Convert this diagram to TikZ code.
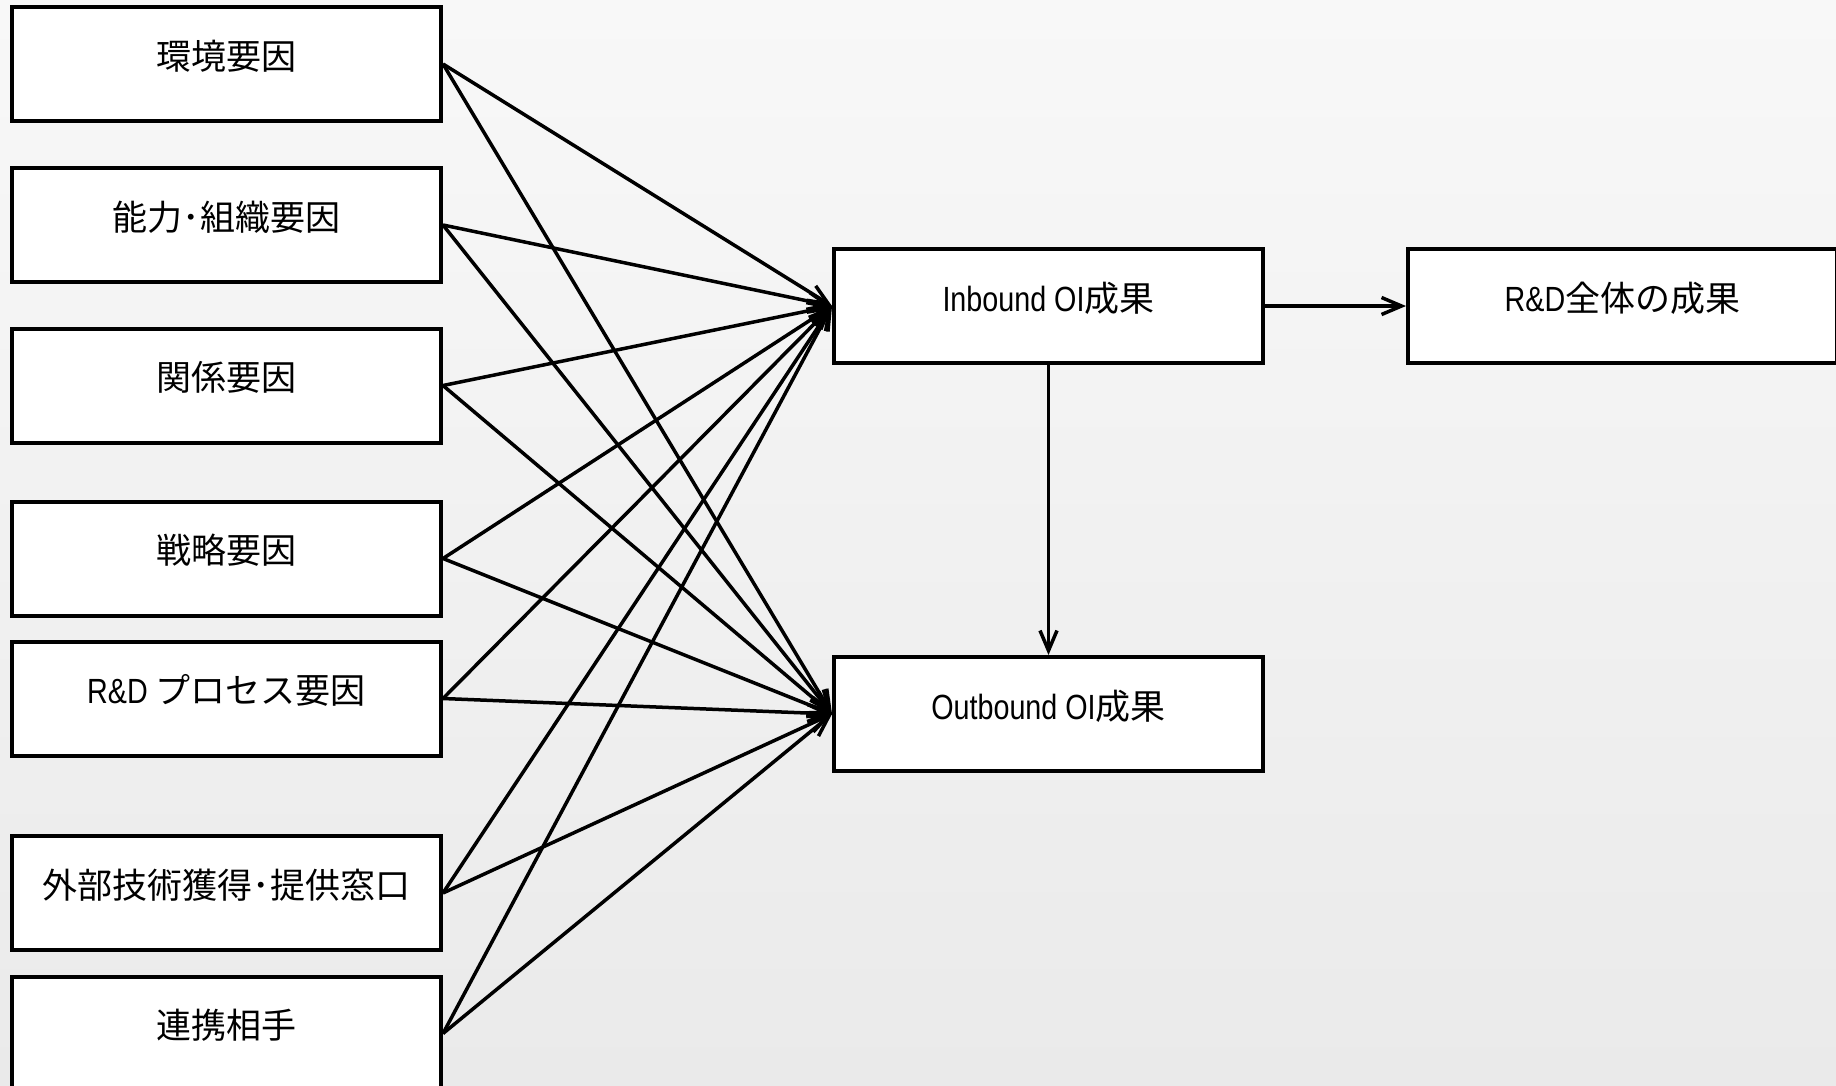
\documentclass[tikz,border=0pt]{standalone}
\usepackage{fontspec}
\setmainfont{Liberation Sans}[FakeStretch=0.82]
\newfontfamily\cjk{Noto Sans CJK JP}
\newcommand\jp[1]{{\cjk #1}}
\usetikzlibrary{arrows.meta}
\definecolor{bgtop}{RGB}{248,248,248}
\definecolor{bgbot}{RGB}{234,234,234}
\tikzset{
  box/.style={draw=black, fill=white, line width=4pt, rectangle,
    minimum width=429pt, minimum height=114pt, inner sep=0pt,
    text height=20pt, text depth=10pt, font=\fontsize{35}{40}\selectfont},
  link/.style={line width=3.5pt, -{Straight Barb[length=20pt,width=17pt,line width=3.5pt]}}
}
\begin{document}
\begin{tikzpicture}[x=1pt, y=-1pt]
  % canvas and soft vertical gradient
  \useasboundingbox (0,0) rectangle (1836,1085);
  \shade[top color=bgtop, bottom color=bgbot] (0,0) rectangle (1836,1085);

  % factor boxes
  \node[box] (env)  at (226.5,64)    {\jp{環境要因}};
  \node[box] (cap)  at (226.5,225)   {\jp{能力･組織要因}};
  \node[box] (rel)  at (226.5,385.5) {\jp{関係要因}};
  \node[box] (str)  at (226.5,558.5) {\jp{戦略要因}};
  \node[box] (proc) at (226.5,698.5) {R\&D \jp{プロセス要因}};
  \node[box] (ext)  at (226.5,893)   {\jp{外部技術獲得･提供窓口}};
  \node[box] (part) at (226.5,1033.5){\jp{連携相手}};

  % outcome boxes
  \node[box] (inb)  at (1048.5,306)  {Inbound OI\jp{成果}};
  \node[box] (outb) at (1048.5,714)  {Outbound OI\jp{成果}};
  \node[box] (rd)   at (1622.5,306)  {R\&D\jp{全体の成果}};

  % every factor feeds both OI outcomes
  \foreach \f in {env,cap,rel,str,proc,ext,part}{
    \draw[link] (\f.east) -- (inb.west);
    \draw[link] (\f.east) -- (outb.west);
  }

  \draw[link] (inb.east) -- (rd.west);
  \draw[link] (inb.south) -- (outb.north);
\end{tikzpicture}
\end{document}
